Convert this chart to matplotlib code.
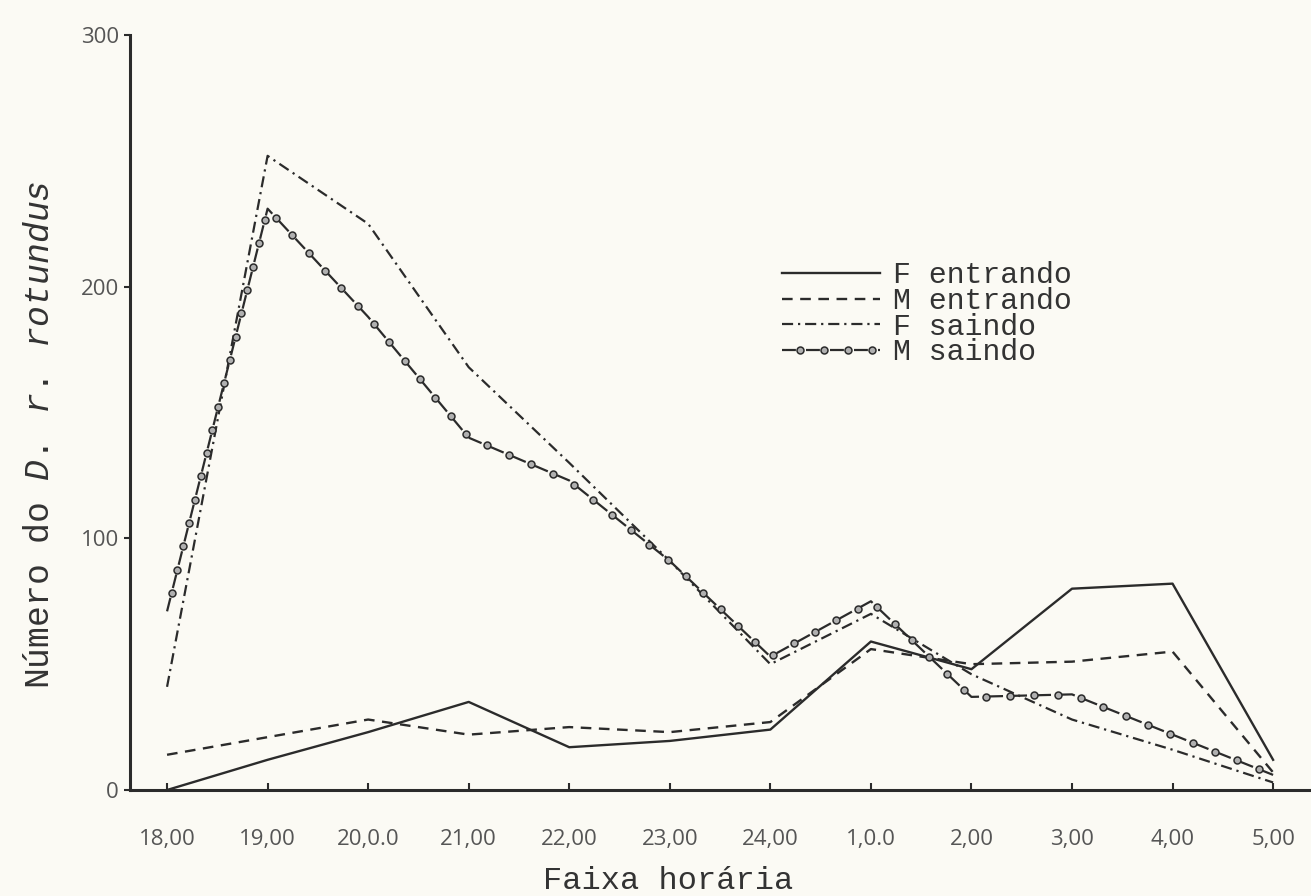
import matplotlib
matplotlib.use("Agg")
import matplotlib.pyplot as plt
import numpy as np
from matplotlib.colors import to_rgb
from matplotlib.path import Path
from matplotlib.patheffects import AbstractPathEffect, Normal
from matplotlib.transforms import Affine2D, IdentityTransform

# contagens por faixa horaria (morcegos entrando / saindo do abrigo)
horas = ['18,00', '19,00', '20,0.0', '21,00', '22,00', '23,00', '24,00',
         '1,0.0', '2,00', '3,00', '4,00', '5,00']
f_entrando = [0, 12, 23, 35, 17, 19.5, 24, 59, 48, 80, 82, 12]
m_entrando = [14, 21, 28, 22, 25, 23, 27, 56, 50, 51, 55, 7]
f_saindo = [41, 252, 225, 168, 130, 91, 50, 70, 46, 28, 16, 3]
m_saindo = [71, 231, 188, 140, 123, 91, 53, 75, 37, 38, 22, 6]
y_ticks = [0, 100, 200, 300]

tinta = '#2b2b2b'
papel = '#fbfaf4'
mono = 'Liberation Mono'


class Bolinhas(AbstractPathEffect):
    """Circulos espacados ao longo do traco (estilo -o-o-o-)."""

    def __init__(self, passo=17.3, inicio=13.6, raio=2.5, face='#b0b0b0'):
        super().__init__()
        self.passo = passo
        self.inicio = inicio
        self.raio = raio
        self.face = to_rgb(face)

    def draw_path(self, renderer, gc, tpath, affine, rgbFace=None):
        pts = affine.transform(tpath.vertices)
        seg = np.diff(pts, axis=0)
        acum = np.concatenate([[0], np.cumsum(np.hypot(seg[:, 0], seg[:, 1]))])
        px = renderer.points_to_pixels(1.0)
        dist = np.arange(self.inicio * px, acum[-1], self.passo * px)
        if len(dist) == 0:
            return
        xs = np.interp(dist, acum, pts[:, 0])
        ys = np.interp(dist, acum, pts[:, 1])
        gc0 = renderer.new_gc()
        gc0.copy_properties(gc)
        gc0.set_dashes(0, None)
        gc0.set_linewidth(1.1)
        marca = Affine2D().scale(self.raio * px)
        renderer.draw_markers(gc0, Path.unit_circle(), marca,
                              Path(np.column_stack([xs, ys])),
                              IdentityTransform(), self.face)
        gc0.restore()


plt.rcParams['mathtext.fontset'] = 'custom'
plt.rcParams['mathtext.it'] = 'Liberation Mono:italic'
plt.rcParams['mathtext.rm'] = 'Liberation Mono'

fig = plt.figure(figsize=(13.11, 8.96), dpi=100, facecolor=papel)
ax = fig.add_axes([0.0992, 0.1183, 0.9008, 0.8426])
ax.set_facecolor(papel)

x = list(range(len(horas)))
ax.plot(x, f_entrando, color=tinta, lw=1.7, label='F entrando')
ax.plot(x, m_entrando, color=tinta, lw=1.7, linestyle=(0, (4.5, 3.2)),
        label='M entrando')
ax.plot(x, f_saindo, color=tinta, lw=1.6, linestyle=(0, (5, 2.2, 1, 2.2)),
        label='F saindo')
ax.plot(x, m_saindo, color=tinta, lw=1.6, linestyle=(0, (6.25, 4.55)),
        path_effects=[Normal(), Bolinhas()], label='M saindo')

ax.set_xlim(-0.368, 11.377)
ax.set_ylim(0, 300)
ax.set_xticks(x)
ax.set_xticklabels(horas, fontfamily='Open Sans', fontsize=16, color='#555555')
ax.set_yticks(y_ticks)
ax.set_yticklabels([str(v) for v in y_ticks], fontfamily='Open Sans',
                   fontsize=16, color='#555555')
ax.tick_params(axis='x', direction='in', length=5, width=1.5, color=tinta, pad=28)
ax.tick_params(axis='y', direction='out', length=4, width=1.5, color=tinta, pad=4)

for lado in ['top', 'right']:
    ax.spines[lado].set_visible(False)
for lado in ['left', 'bottom']:
    ax.spines[lado].set_color(tinta)
    ax.spines[lado].set_linewidth(2.2)

ax.set_xlabel('Faixa horária', fontfamily=mono, fontsize=23, color='#333333')
ax.xaxis.set_label_coords(0.456, -0.100)
ax.set_ylabel(r'Número do $\mathit{D.}$ $\mathit{r.}$ $\mathit{rotundus}$',
              fontfamily=mono, fontsize=25, color='#333333')
ax.yaxis.set_label_coords(-0.063, 0.47)

leg = ax.legend(loc='upper left', bbox_to_anchor=(0.539, 0.72), frameon=False,
                prop={'family': mono, 'size': 21.5}, handlelength=3.3,
                handletextpad=0.45, labelspacing=-0.08, borderpad=0)
for t in leg.get_texts():
    t.set_color('#333333')

fig.savefig('out.png', dpi=100, facecolor=papel)
